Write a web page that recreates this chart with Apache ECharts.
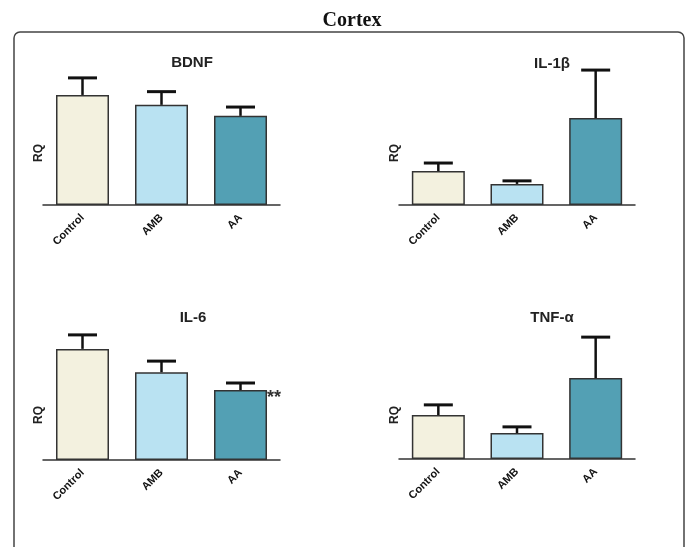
<!DOCTYPE html>
<html><head><meta charset="utf-8">
<script src="https://cdn.jsdelivr.net/npm/echarts@6/dist/echarts.min.js"></script>
<style>html,body{margin:0;padding:0;background:#fff}#c{width:686px;height:547px}</style>
</head><body><div id="c"></div>
<script>
const categories = ['Control', 'AMB', 'AA'];
const panelTitles = ['BDNF', 'IL-1β', 'IL-6', 'TNF-α'];
const bdnfMean = [1.00, 0.91, 0.81];
const bdnfSem  = [0.155, 0.12, 0.08];
const il1bMean = [1.00, 0.62, 2.56];
const il1bSem  = [0.235, 0.09, 1.41];
const il6Mean  = [1.00, 0.79, 0.63];
const il6Sem   = [0.126, 0.10, 0.063];
const tnfMean  = [1.00, 0.59, 1.84];
const tnfSem   = [0.23, 0.14, 0.93];
const il6Annot = ['', '', '**'];

const barColors = ['#f3f1df', '#b9e2f2', '#53a0b4'];
const font = 'Liberation Sans, Arial, sans-serif';

const panels = [
  {mean: bdnfMean, sem: bdnfSem, grid: {left: 43, width: 237, top: 101, bottom: 342}, max: 0.945, title: [187, 50]},
  {mean: il1bMean, sem: il1bSem, grid: {left: 399, width: 236, top: 101, bottom: 342}, max: 3.06, title: [547, 51]},
  {mean: il6Mean, sem: il6Sem, grid: {left: 43, width: 237, top: 370, bottom: 87}, max: 0.81, title: [188, 305], annot: il6Annot},
  {mean: tnfMean, sem: tnfSem, grid: {left: 399, width: 236, top: 371, bottom: 88}, max: 2.0, title: [547, 305]}
];

const chart = echarts.init(document.getElementById('c'));
const option = {
  animation: false,
  title: [{text: 'Cortex', left: 347, top: 6, textAlign: 'center', textStyle: {fontFamily: 'Liberation Serif, Times New Roman, serif', fontWeight: 'bold', fontSize: 20, color: '#111'}}],
  grid: [], xAxis: [], yAxis: [], series: [],
  graphic: [{type: 'rect', shape: {x: 14, y: 32, width: 670, height: 560, r: 6}, style: {fill: 'none', stroke: '#444', lineWidth: 1.5}, silent: true}]
};
panels.forEach((p, i) => {
  option.title.push({text: panelTitles[i], left: p.title[0], top: p.title[1], textAlign: 'center',
    textStyle: {fontFamily: font, fontWeight: 'bold', fontSize: 15, color: '#222'}});
  option.grid.push(p.grid);
  option.xAxis.push({type: 'category', gridIndex: i, data: categories,
    axisLine: {lineStyle: {color: '#333', width: 1.5}},
    axisTick: {alignWithLabel: true, length: 5, lineStyle: {color: '#333', width: 1.5}},
    axisLabel: {rotate: 45, fontFamily: font, fontWeight: 'bold', fontSize: 11, color: '#111', margin: 11}});
  option.yAxis.push({type: 'value', gridIndex: i, min: 0, max: p.max,
    axisLine: {show: false}, axisTick: {show: false}, axisLabel: {show: false}, splitLine: {show: false},
    name: 'RQ', nameLocation: 'middle', nameGap: -2, nameRotate: 90,
    nameTextStyle: {fontFamily: font, fontWeight: 'bold', fontSize: 12, color: '#222'}});
  option.series.push({type: 'bar', xAxisIndex: i, yAxisIndex: i, barWidth: 53, clip: false,
    data: p.mean.map((v, k) => ({value: v, itemStyle: {color: barColors[k], borderColor: '#333', borderWidth: 1.5},
      label: (p.annot && p.annot[k]) ? {show: true, formatter: p.annot[k], position: [53, -1], fontSize: 18, fontWeight: 'bold', color: '#333', fontFamily: font} : {show: false}}))});
  option.series.push({type: 'custom', xAxisIndex: i, yAxisIndex: i, z: 3, clip: false,
    data: p.mean.map((v, k) => [k, v, p.sem[k]]),
    renderItem: function (params, api) {
      const base = api.coord([api.value(0), api.value(1)]);
      const top = api.coord([api.value(0), api.value(1) + api.value(2)]);
      const hw = 14.5;
      return {type: 'group', children: [
        {type: 'line', shape: {x1: base[0], y1: base[1], x2: top[0], y2: top[1]}, style: {stroke: '#111', lineWidth: 2.5}},
        {type: 'line', shape: {x1: top[0] - hw, y1: top[1], x2: top[0] + hw, y2: top[1]}, style: {stroke: '#111', lineWidth: 3}}
      ]};
    }});
});
chart.setOption(option);
</script></body></html>
